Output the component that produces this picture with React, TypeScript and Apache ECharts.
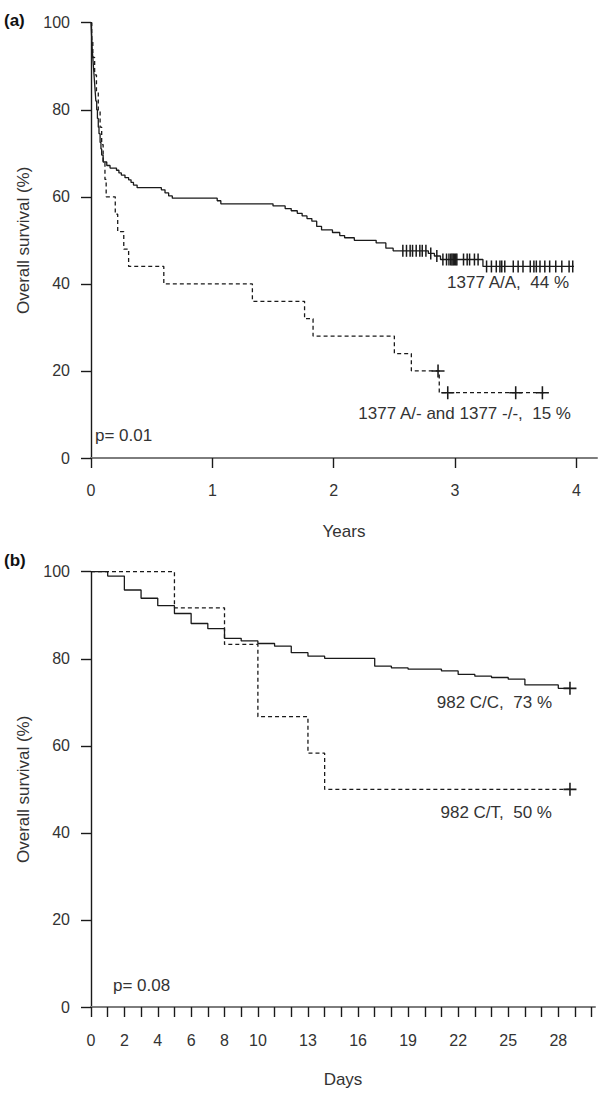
import React, { useEffect, useRef } from "react";
import * as echarts from "echarts";

// ---------- Panel (a): years ----------
const yearTicks = [0, 1, 2, 3, 4];
const survTicks = [0, 20, 40, 60, 80, 100];

// 1377 A/A (solid)
const aaTime = [0, 0.005, 0.01, 0.015, 0.02, 0.025, 0.03, 0.035, 0.04, 0.047, 0.053, 0.06, 0.066, 0.075, 0.082, 0.088, 0.1, 0.13, 0.157, 0.21, 0.23, 0.25, 0.28, 0.31, 0.33, 0.35, 0.38, 0.58, 0.61, 0.64, 0.67, 1.04, 1.07, 1.5, 1.6, 1.65, 1.7, 1.74, 1.78, 1.82, 1.86, 1.9, 1.99, 2.05, 2.09, 2.17, 2.35, 2.43, 2.49, 2.78, 2.83, 2.88, 3.23, 3.98];
const aaSurv = [100, 97, 94, 92, 90, 88, 86, 84, 82, 80, 78, 76, 74.5, 72.5, 71, 69.6, 68, 67.2, 66.6, 66.1, 65.5, 65, 64.4, 63.9, 63.3, 62.7, 62.1, 61.6, 60.9, 60.2, 59.7, 59.1, 58.4, 57.9, 57.3, 56.8, 56.2, 55.6, 55.0, 54.4, 53.2, 52.4, 51.8, 51.1, 50.6, 50.0, 49.4, 48.2, 47.6, 47.0, 46.4, 45.6, 44.0, 44.0];
const aaCensTime = [2.57, 2.6, 2.63, 2.65, 2.68, 2.71, 2.73, 2.76, 2.8, 2.85, 2.9, 2.93, 2.95, 2.965, 2.975, 2.985, 2.995, 3.005, 3.015, 3.07, 3.1, 3.12, 3.16, 3.19, 3.26, 3.3, 3.34, 3.37, 3.385, 3.41, 3.48, 3.52, 3.56, 3.62, 3.65, 3.67, 3.7, 3.74, 3.78, 3.83, 3.88, 3.94, 3.97];
const aaCensSurv = [47.6, 47.6, 47.6, 47.6, 47.6, 47.6, 47.6, 47.6, 47.0, 46.4, 45.6, 45.6, 45.6, 45.6, 45.6, 45.6, 45.6, 45.6, 45.6, 45.6, 45.6, 45.6, 45.6, 45.6, 44, 44, 44, 44, 44, 44, 44, 44, 44, 44, 44, 44, 44, 44, 44, 44, 44, 44, 44];

// 1377 A/- and 1377 -/- (dashed)
const mtTime = [0, 0.006, 0.015, 0.03, 0.045, 0.06, 0.075, 0.088, 0.1, 0.115, 0.125, 0.2, 0.22, 0.27, 0.31, 0.6, 1.33, 1.76, 1.83, 2.5, 2.64, 2.87, 3.76];
const mtSurv = [100, 96, 92, 88, 84, 80, 76, 72, 68, 64, 60, 56, 52, 48, 44, 40, 36, 32, 28, 24, 20, 15, 15];
const mtCensTime = [2.86, 2.94, 3.5, 3.72];
const mtCensSurv = [20, 15, 15, 15];

// ---------- Panel (b): days ----------
const dayTicks = Array.from({ length: 31 }, (_, i) => i);
const dayLabels = [0, 2, 4, 6, 8, 10, 13, 16, 19, 22, 25, 28];

// 982 C/C (solid)
const ccTime = [0, 1, 2, 3, 4, 5, 6, 7, 8, 9, 10, 11, 12, 13, 14, 17, 18, 19, 21, 22, 23, 24, 25, 26, 28, 28.7];
const ccSurv = [100, 99, 95.8, 93.9, 92.2, 90.4, 88.1, 86.9, 84.7, 84.1, 83.5, 82.9, 81.4, 80.6, 80.1, 78.3, 77.9, 77.6, 77.2, 76.4, 76.0, 75.7, 75.3, 74.0, 73.2, 73.2];
const ccCensTime = [28.7];
const ccCensSurv = [73.2];

// 982 C/T (dashed)
const ctTime = [0, 5, 8, 10, 13, 14, 28.7];
const ctSurv = [100, 91.7, 83.3, 66.7, 58.3, 50, 50];
const ctCensTime = [28.7];
const ctCensSurv = [50];

const FONT = "'Liberation Sans', Arial, Helvetica, sans-serif";
const INK = "#1a1a1a";
const TXT = "#333333";
const CROSS = "path://M4.4,0H5.6V4.4H10V5.6H5.6V10H4.4V5.6H0V4.4H4.4Z";

const pairs = (t: number[], s: number[]) => t.map((v, i) => [v, s[i]]);

function xAxisDef(grid: number, max: number, ticks: number[], labels: number[], name: string, gap: number, margin: number) {
  return {
    gridIndex: grid,
    type: "value",
    min: 0,
    max,
    name,
    nameLocation: "middle",
    nameGap: gap,
    nameTextStyle: { fontFamily: FONT, fontSize: 17, color: TXT },
    axisLine: { show: true, onZero: false, lineStyle: { color: "#7d7d7d", width: 2 } },
    axisTick: { show: true, customValues: ticks, length: 10, lineStyle: { color: INK, width: 1.4 } },
    axisLabel: { show: true, customValues: labels, margin, fontFamily: FONT, fontSize: 16, color: TXT },
    splitLine: { show: false },
  };
}

function yAxisDef(grid: number) {
  return {
    gridIndex: grid,
    type: "value",
    min: 0,
    max: 100,
    interval: 20,
    name: "Overall survival (%)",
    nameLocation: "middle",
    nameGap: 58,
    nameTextStyle: { fontFamily: FONT, fontSize: 17, color: TXT },
    axisLine: { show: true, lineStyle: { color: INK, width: 1.4 } },
    axisTick: { show: true, customValues: survTicks, length: 10, lineStyle: { color: INK, width: 1.4 } },
    axisLabel: { show: true, margin: 21, fontFamily: FONT, fontSize: 16, color: TXT },
    splitLine: { show: false },
  };
}

function kmLine(grid: number, t: number[], s: number[], dashed: boolean) {
  return {
    type: "line",
    xAxisIndex: grid,
    yAxisIndex: grid,
    step: "end",
    showSymbol: false,
    symbol: "none",
    data: pairs(t, s),
    lineStyle: { color: INK, width: 1.3, type: dashed ? [4, 3] : "solid" },
    z: 3,
  };
}

function censor(grid: number, t: number[], s: number[], plus: boolean) {
  return {
    type: "scatter",
    xAxisIndex: grid,
    yAxisIndex: grid,
    data: pairs(t, s),
    symbol: plus ? CROSS : "rect",
    symbolSize: plus ? 13 : [1.5, 12],
    itemStyle: { color: INK, opacity: 1 },
    z: 4,
  };
}

function label(text: string, x: number, y: number, align: string, bold = false, size = 17) {
  return {
    type: "text",
    x,
    y,
    silent: true,
    style: {
      text,
      fill: bold ? "#111" : TXT,
      font: `${bold ? "bold " : ""}${size}px ${FONT}`,
      textAlign: align,
      textVerticalAlign: "middle",
    },
  };
}

export default function App() {
  const ref = useRef<HTMLDivElement>(null);
  useEffect(() => {
    if (!ref.current) return;
    const chart = echarts.init(ref.current, undefined, { renderer: "svg" });
    chart.setOption({
      animation: false,
      backgroundColor: "#ffffff",
      textStyle: { fontFamily: FONT },
      grid: [
        { left: 91, top: 22.7, width: 506, height: 435.3 },
        { left: 91, top: 571.7, width: 504, height: 435.3 },
      ],
      xAxis: [
        xAxisDef(0, 4.17, yearTicks, yearTicks, "Years", 65, 24),
        xAxisDef(1, 30.2, dayTicks, dayLabels, "Days", 64, 25),
      ],
      yAxis: [yAxisDef(0), yAxisDef(1)],
      series: [
        kmLine(0, aaTime, aaSurv, false),
        kmLine(0, mtTime, mtSurv, true),
        censor(0, aaCensTime, aaCensSurv, false),
        censor(0, mtCensTime, mtCensSurv, true),
        kmLine(1, ccTime, ccSurv, false),
        kmLine(1, ctTime, ctSurv, true),
        censor(1, ccCensTime, ccCensSurv, true),
        censor(1, ctCensTime, ctCensSurv, true),
      ],
      graphic: [
        label("(a)", 4, 20, "left", true, 17),
        label("1377 A/A,  44 %", 569, 282, "right"),
        label("1377 A/- and 1377 -/-,  15 %", 571, 413, "right"),
        label("p= 0.01", 95, 435, "left"),
        label("(b)", 4, 560, "left", true, 17),
        label("982 C/C,  73 %", 552, 702, "right"),
        label("982 C/T,  50 %", 552, 812, "right"),
        label("p= 0.08", 113, 985, "left"),
      ],
    });
    return () => chart.dispose();
  }, []);
  return (
    <div
      ref={ref}
      style={{ position: "absolute", left: 0, top: 0, width: 600, height: 1100, background: "#fff" }}
    />
  );
}
